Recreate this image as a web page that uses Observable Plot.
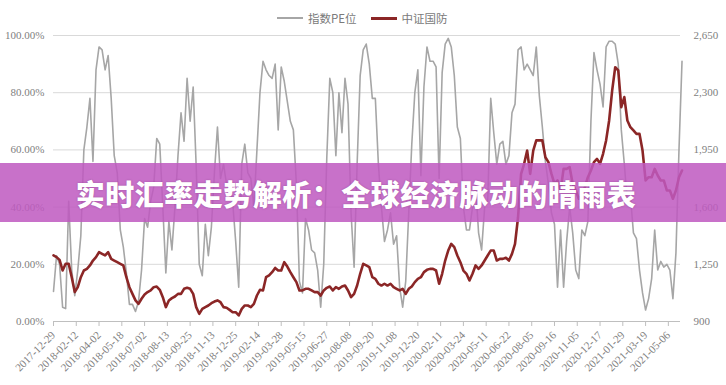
<!DOCTYPE html>
<html>
<head>
<meta charset="utf-8">
<script src="https://cdn.jsdelivr.net/npm/d3@7"></script>
<script src="https://cdn.jsdelivr.net/npm/@observablehq/plot@0.6"></script>
<style>
  body { margin: 0; background: #fff; }
  #wrap { position: relative; width: 726px; height: 385px; overflow: hidden; background: #fff; }
  #chart { position: absolute; left: 0; top: 0; }
  #legend { position: absolute; top: 9px; left: 277px; height: 18px; display: flex; align-items: center;
            font-family: "Noto Sans CJK SC", sans-serif; font-size: 11.5px; color: #7a7a7a; white-space: nowrap; }
  #legend .sw { display: inline-block; width: 26px; height: 0; margin-right: 5px; }
  #legend .item { display: flex; align-items: center; margin-right: 14px; }
  #banner { position: absolute; left: 0; top: 163px; width: 726px; height: 59px;
            background: rgba(191, 90, 192, 0.86); display: flex; align-items: center; justify-content: center; }
  #banner span { color: #fff; font-family: "Noto Sans CJK SC", sans-serif; font-weight: 900; font-size: 29px;
                 letter-spacing: 0.5px; text-shadow: 0 0 2px rgba(80,20,80,0.35); margin-left: -14px; }
</style>
</head>
<body>
<div id="wrap">
  <div id="chart"></div>
  <div id="legend"></div>
  <div id="banner"><span id="bannerText"></span></div>
</div>
<script>
// ---- data ----
const seriesNames = ["指数PE位", "中证国防"];
const seriesColors = ["#a6a6a6", "#8b2626"];
const bannerTitle = "实时汇率走势解析：全球经济脉动的晴雨表";

// date tick labels (one every 30 trading days)
const dateLabels = ["2017-12-29","2018-02-12","2018-04-02","2018-05-18","2018-07-02","2018-08-13","2018-09-25",
  "2018-11-13","2018-12-25","2019-02-14","2019-03-28","2019-05-15","2019-06-27","2019-08-08","2019-09-20",
  "2019-11-08","2019-12-20","2020-02-11","2020-03-24","2020-05-11","2020-06-22","2020-08-05","2020-09-16",
  "2020-11-05","2020-12-17","2021-01-29","2021-03-19","2021-05-06"];
const leftLabels = ["0.00%","20.00%","40.00%","60.00%","80.00%","100.00%"];
const rightLabels = ["900","1,250","1,600","1,950","2,300","2,650"];
const rightMin = 900, rightMax = 2650;

// PE percentile (%), sampled every 4 trading days
const peSeries = [10.5,23,20,5,4.5,42,18,9,18,30,
60,68,78,56,88,96,95,88,93,78,
58,52,32,26,17,6,6,3.5,7,18,
36,33,42,47,64,62,40,17,35,25,
40,58,73,63,85,70,82,54,20,16,
34,23,33,52,68,50,55,48,48,42,
28,12,55,62,52,50,40,60,80,91,
88,86,85,90,67,89,84,77,70,67,
48,14,10,36,32,25,24,18,5,20,
57,85,80,58,80,66,85,76,38,19,
55,86,95,97,90,78,78,55,40,28,
32,38,27,30,12,5,14,38,62,80,
88,51,82,96,91,91,89,50,87,97,
99,96,86,68,64,40,32,32,40,48,
31,25,40,42,78,66,55,62,63,55,
58,73,76,95,96,88,90,88,86,96,
79,68,56,48,38,34,12,32,12,28,
40,31,18,15,32,30,35,70,94,88,
83,75,96,98,98,97,90,67,55,42,
44,31,29,18,10,4,8,15,32,18,
21,19,20,18,8,24,60,91];

// CSI Defense index level, sampled every 4 trading days
const defenseSeries = [1304,1294,1277,1212,1253,1253,1171,1080,1110,1171,
1212,1222,1243,1273,1294,1324,1314,1304,1324,1283,
1273,1263,1253,1243,1171,1110,1069,1029,1008,1039,
1065,1080,1090,1110,1114,1094,1049,988,1029,1043,
1053,1069,1069,1100,1106,1100,1069,988,947,977,
988,998,1012,1022,1029,1018,988,984,971,957,
957,937,977,998,998,988,1008,1059,1094,1090,
1171,1182,1202,1228,1212,1212,1263,1236,1202,1171,
1141,1090,1090,1100,1100,1090,1080,1080,1059,1090,
1106,1114,1090,1110,1100,1114,1120,1090,1049,1069,
1120,1192,1253,1243,1232,1171,1161,1131,1120,1131,
1120,1131,1110,1100,1090,1100,1069,1100,1114,1141,
1161,1171,1202,1216,1222,1222,1212,1131,1192,1273,
1334,1375,1355,1304,1263,1212,1192,1151,1192,1243,
1222,1243,1273,1304,1334,1334,1273,1283,1283,1290,
1273,1314,1375,1538,1803,1865,1946,1803,1946,2008,
2008,2008,1905,1875,1803,1742,1763,1702,1834,1834,
1844,1742,1702,1651,1671,1722,1783,1824,1875,1895,
1865,1926,2008,2130,2314,2456,2436,2212,2273,2130,
2089,2069,2048,2048,1946,1763,1783,1783,1834,1793,
1763,1763,1702,1702,1651,1702,1783,1824];

const stepDays = 4;
const tickEvery = 30;

// ---- build ----
const data = peSeries.map((v, i) => ({
  t: i * stepDays,
  pe: v / 100,
  def: (defenseSeries[i] - rightMin) / (rightMax - rightMin)
}));
const yTicks = leftLabels.map((_, i) => i / (leftLabels.length - 1));
const xTicks = dateLabels.map((_, j) => j * tickEvery);

const chart = Plot.plot({
  width: 726,
  height: 385,
  marginTop: 35,
  marginBottom: 64,
  marginLeft: 53,
  marginRight: 46,
  style: { fontFamily: "'Liberation Serif', serif", fontSize: "11px", color: "#808080", background: "transparent" },
  x: { domain: [0, 826], axis: null },
  y: { domain: [0, 1], axis: null },
  marks: [
    Plot.ruleY(yTicks.slice(1), { stroke: "#d9d9d9", strokeWidth: 1 }),
    Plot.axisY(yTicks, { anchor: "left", tickSize: 0, tickPadding: 9, label: null,
      tickFormat: d => leftLabels[Math.round(d * (leftLabels.length - 1))] }),
    Plot.axisY(yTicks, { anchor: "right", tickSize: 0, tickPadding: 13, label: null,
      tickFormat: d => rightLabels[Math.round(d * (rightLabels.length - 1))] }),
    Plot.axisX(xTicks, { tickSize: 5, tickRotate: -45, label: null, stroke: "#bfbfbf",
      tickFormat: d => dateLabels[Math.round(d / tickEvery)] }),
    Plot.ruleY([0], { stroke: "#bfbfbf" }),
    Plot.lineY(data, { x: "t", y: "pe", stroke: seriesColors[0], strokeWidth: 1.6 }),
    Plot.lineY(data, { x: "t", y: "def", stroke: seriesColors[1], strokeWidth: 2.6 })
  ]
});
document.getElementById("chart").appendChild(chart);

// legend
const legend = document.getElementById("legend");
seriesNames.forEach((name, i) => {
  const item = document.createElement("span");
  item.className = "item";
  const sw = document.createElement("span");
  sw.className = "sw";
  sw.style.borderTop = (i === 0 ? "2px" : "3px") + " solid " + seriesColors[i];
  item.appendChild(sw);
  item.appendChild(document.createTextNode(name));
  legend.appendChild(item);
});
document.getElementById("bannerText").textContent = bannerTitle;
</script>
</body>
</html>
